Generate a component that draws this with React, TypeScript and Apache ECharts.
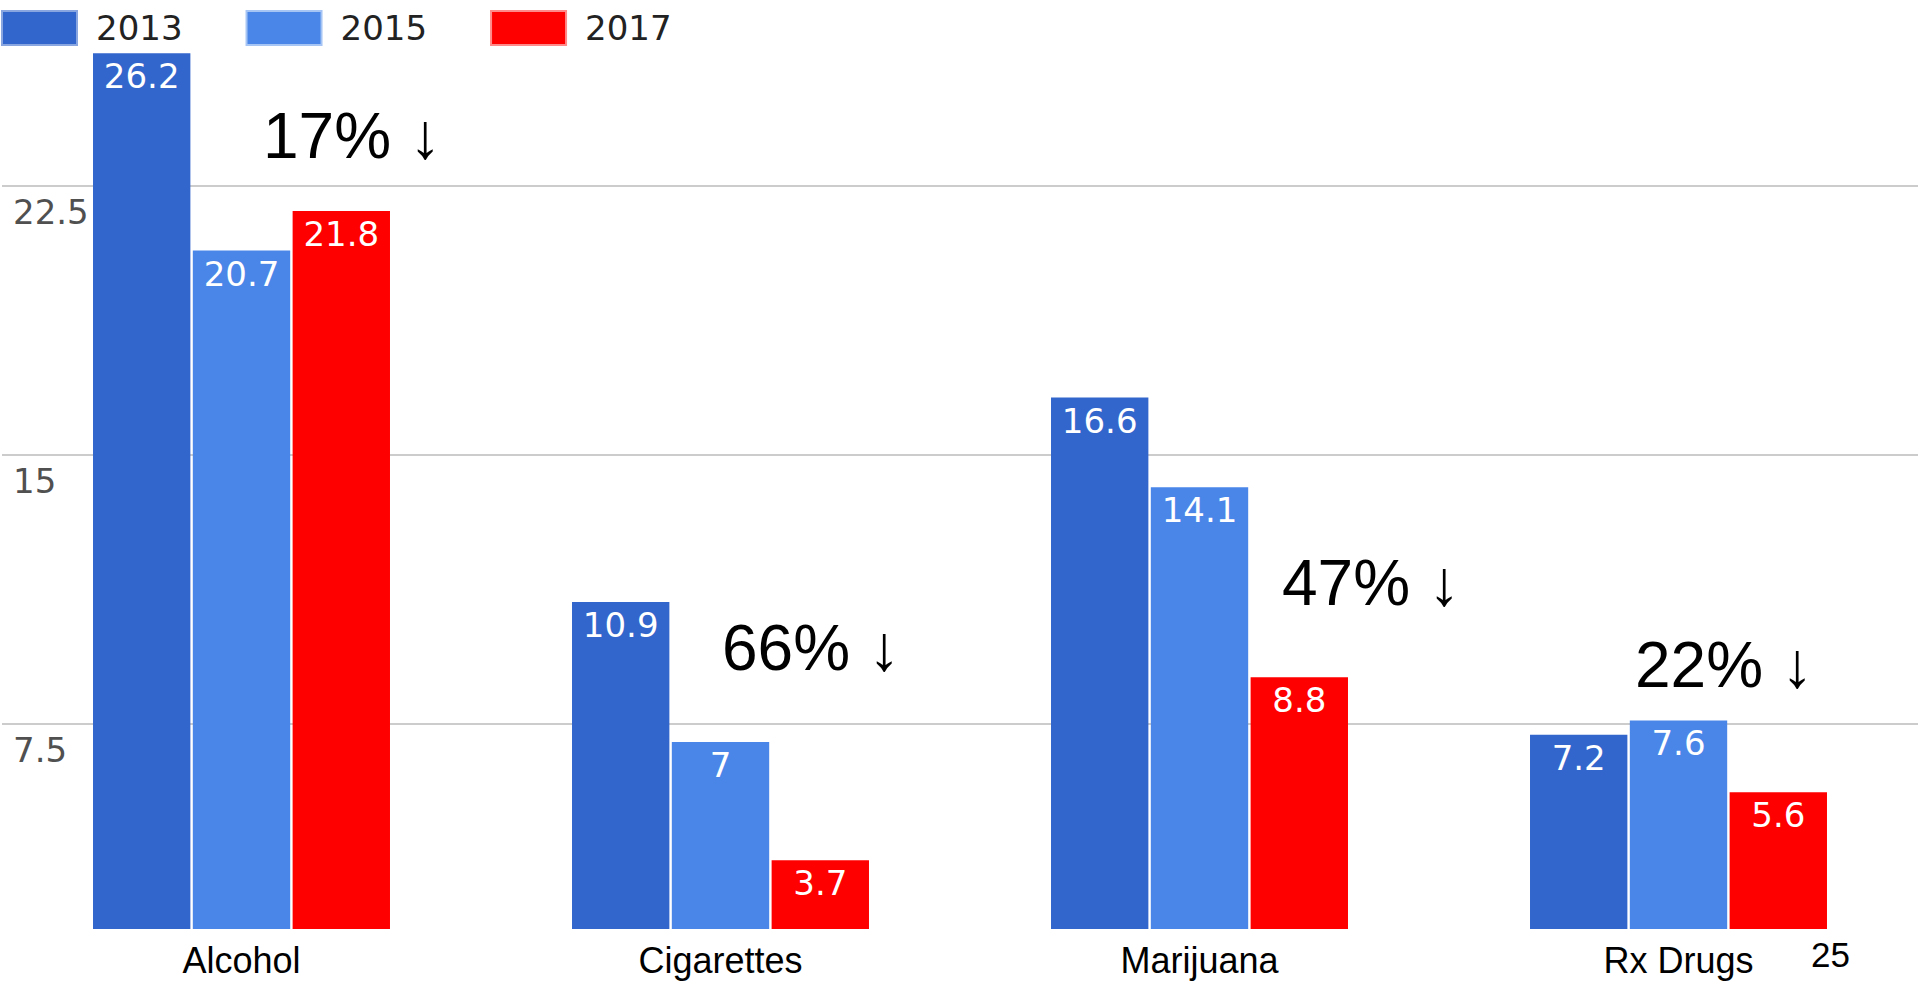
import React, { useEffect, useRef } from "react";
import * as echarts from "echarts";

const categories = ["Alcohol", "Cigarettes", "Marijuana", "Rx Drugs"];
const seriesNames = ["2013", "2015", "2017"];
const values2013 = [26.2, 10.9, 16.6, 7.2];
const values2015 = [20.7, 7, 14.1, 7.6];
const values2017 = [21.8, 3.7, 8.8, 5.6];
const yTicks = [7.5, 15, 22.5];
const changeLabels = ["17% ↓", "66% ↓", "47% ↓", "22% ↓"];
const slideNumber = "25";

const colors = ["#3366cc", "#4a86e8", "#ff0000"];
const borderColors = ["#8aa6e0", "#a6c4f4", "#ff8a8a"];

// annotation placement (left x, baseline y)
const annoPos = [
  [263, 158],
  [722, 670],
  [1282, 605],
  [1635, 687],
];

export default function App() {
  const ref = useRef<HTMLDivElement>(null);
  useEffect(() => {
    if (!ref.current) return;
    const chart = echarts.init(ref.current, null, { renderer: "svg" });
    const seriesData = [values2013, values2015, values2017];
    const gFont = "DejaVu Sans";
    const annoSize = 64;
    chart.setOption({
      animation: false,
      backgroundColor: "#ffffff",
      legend: {
        left: 1,
        top: 10,
        padding: 0,
        itemWidth: 75,
        itemHeight: 34,
        itemGap: 63,
        icon: "rect",
        textStyle: { fontFamily: gFont, fontSize: 34, color: "#222222", padding: [0, 0, 0, 14] },
        data: seriesNames.map((n, i) => ({
          name: n,
          itemStyle: { color: colors[i], borderColor: borderColors[i], borderWidth: 2 },
        })),
      },
      grid: { left: 2, right: 2, top: 0, bottom: 55, containLabel: false },
      xAxis: {
        type: "category",
        data: categories,
        axisLine: { show: false },
        axisTick: { show: false },
        axisLabel: {
          fontFamily: "Liberation Sans",
          fontSize: 36,
          color: "#000000",
          margin: 13,
        },
      },
      yAxis: {
        type: "value",
        min: 1.784,
        max: 27.686,
        axisLine: { show: false },
        axisTick: { show: false, customValues: yTicks },
        splitLine: { show: true, lineStyle: { color: "#cccccc", width: 2 } },
        axisLabel: {
          customValues: yTicks,
          inside: true,
          margin: 11,
          verticalAlign: "top",
          padding: [9, 0, 0, 0],
          fontFamily: gFont,
          fontSize: 34,
          color: "#505050",
          formatter: (v: number) => String(v),
        },
      },
      series: seriesNames.map((n, i) => ({
        name: n,
        type: "bar",
        data: seriesData[i],
        barCategoryGap: "38%",
        barGap: "2.5%",
        itemStyle: { color: colors[i] },
        label: {
          show: true,
          position: "insideTop",
          distance: 6,
          fontFamily: gFont,
          fontSize: 34,
          color: "#ffffff",
        },
      })),
      graphic: [
        ...changeLabels.map((t, i) => ({
          type: "text",
          x: annoPos[i][0],
          y: annoPos[i][1] - 0.3465 * annoSize,
          style: {
            text: t,
            fontFamily: "Liberation Sans",
            fontSize: annoSize,
            fill: "#000000",
            verticalAlign: "middle",
            align: "left",
          },
        })),
        {
          type: "text",
          x: 1811,
          y: 967 - 0.3465 * 35,
          style: {
            text: slideNumber,
            fontFamily: "Liberation Sans",
            fontSize: 35,
            fill: "#000000",
            verticalAlign: "middle",
            align: "left",
          },
        },
      ],
    });
    return () => chart.dispose();
  }, []);
  return (
    <div
      ref={ref}
      style={{ position: "fixed", left: 0, top: 0, width: "1920px", height: "984px" }}
    />
  );
}
